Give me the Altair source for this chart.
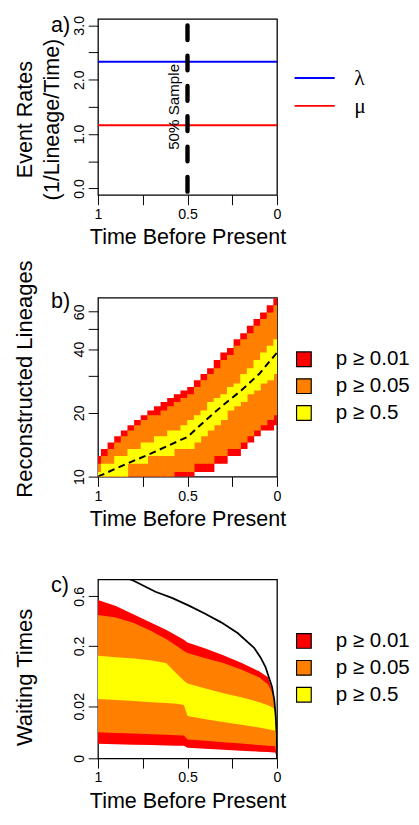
import altair as alt
import pandas as pd

FONT = "Liberation Sans"

# ---------------- panel a: event rates ----------------
rate_names = ["λ", "μ"]
rate_values = [2.33, 1.16]
rate_colors = ["#0000FF", "#FF0000"]
rate_times = [1.0, 0.0]
sample_time = [0.5]
sample_top = [3.0]
sample_bottom = [-0.2]
sample_label = ["50% Sample"]
sample_label_y = [1.5]
a_ticks = [0.0, 0.5, 1.0, 1.5, 2.0, 2.5, 3.0]

# ---------------- panel b: reconstructed lineages ----------------
level_names = ["p ≥ 0.01", "p ≥ 0.05", "p ≥ 0.5"]
level_colors = ["#FF0000", "#FF8000", "#FFFF00"]

b_times = [1.0, 0.963, 0.926, 0.889, 0.852, 0.815, 0.778, 0.741, 0.704, 0.667,
           0.630, 0.593, 0.556, 0.519, 0.481, 0.444, 0.407, 0.370, 0.333, 0.296,
           0.259, 0.222, 0.185, 0.148, 0.111, 0.074, 0.037, 0.0]
b_bin_width = 0.037
b_red_hi = [12, 13, 14, 15, 16, 17, 18, 19, 20, 21, 22, 23, 24, 25, 26, 28, 30, 32, 35, 38, 40, 44, 47, 51, 55, 59, 64, 69]
b_orange_hi = [11, 12, 13, 14, 15, 16, 17, 18, 19, 19, 20, 21, 22, 23, 24, 26, 28, 30, 32, 35, 37, 41, 44, 47, 51, 55, 59, 64]
b_yellow_hi = [10, 11, 11, 12, 12, 13, 13, 14, 14, 15, 15, 16, 16, 17, 18, 19, 20, 22, 23, 24, 26, 27, 30, 32, 35, 38, 41, 44]
b_yellow_lo = [10, 10, 10, 10, 10, 12, 12, 12, 13, 13, 13, 13, 14, 14, 14, 15, 16, 17, 18, 19, 21, 22, 23, 25, 26, 28, 29, 31]
b_orange_lo = [10, 10, 10, 10, 10, 10, 10, 10, 10, 10, 10, 10, 11, 11, 11, 12, 12, 12, 13, 13, 14, 14, 15, 16, 17, 18, 19, 20]
b_red_lo = [10, 10, 10, 10, 10, 10, 10, 10, 10, 10, 10, 10, 10, 10, 10, 11, 11, 11, 12, 12, 13, 13, 14, 15, 16, 17, 17, 18]

b_median_t = [1.0, 0.85, 0.7, 0.6, 0.5, 0.4, 0.3, 0.2, 0.1, 0.0]
b_median_n = [10.0, 11.4, 12.9, 14.1, 15.4, 18.4, 21.8, 25.5, 30.5, 38.5]
b_ticks = [10, 20, 30, 40, 50, 60]

# ---------------- panel c: waiting times ----------------
c_times = [1.0, 0.9, 0.8, 0.7, 0.62, 0.56, 0.52, 0.50, 0.4, 0.3, 0.2, 0.1, 0.05, 0.02, 0.01, 0.0]
c_red_hi = [0.56, 0.50, 0.42, 0.35, 0.30, 0.26, 0.235, 0.22, 0.187, 0.155, 0.123, 0.093, 0.075, 0.036, 0.016, 0.0]
c_orange_hi = [0.415, 0.395, 0.35, 0.29, 0.24, 0.20, 0.175, 0.165, 0.142, 0.122, 0.099, 0.075, 0.057, 0.036, 0.016, 0.0]
c_yellow_hi = [0.152, 0.146, 0.14, 0.132, 0.122, 0.0855, 0.066, 0.059, 0.048, 0.039, 0.032, 0.025, 0.021, 0.018, 0.014, 0.0]
c_yellow_lo = [0.0293, 0.028, 0.0265, 0.025, 0.024, 0.023, 0.0215, 0.0107, 0.0085, 0.0068, 0.0053, 0.0041, 0.0035, 0.0031, 0.003, 0.0]
c_orange_lo = [0.0025, 0.0023, 0.00214, 0.00197, 0.00184, 0.00175, 0.00169, 0.00096, 0.00076, 0.00059, 0.00045, 0.00033, 0.00028, 0.00026, 0.00025, 0.0]
c_red_lo = [0.00044, 0.0004, 0.00036, 0.00033, 0.0003, 0.000285, 0.000273, 0.000161, 0.000121, 0.0000887, 0.0000626, 0.0000421, 0.0000337, 0.0000295, 0.0000284, 0.0]

c_curve_t = [0.83, 0.798, 0.679, 0.587, 0.495, 0.404, 0.312, 0.22, 0.128, 0.092, 0.064, 0.046, 0.028, 0.015, 0.0073, 0.0018, 0.0]
c_curve_v = [0.818, 0.787, 0.653, 0.583, 0.505, 0.429, 0.355, 0.278, 0.191, 0.145, 0.107, 0.076, 0.052, 0.028, 0.0107, 0.0017, 0.0]
c_ticks = [0, 0.02, 0.2, 0.6]

# ---------------- shared pieces ----------------
W = 183
x_scale = alt.Scale(domain=[0, 1], reverse=True, nice=False, zero=False)
x_axis = alt.Axis(
    title="Time Before Present",
    values=[0, 0.25, 0.5, 0.75, 1],
    labelExpr="datum.value == 1 ? '1' : datum.value == 0.5 ? '0.5' : datum.value == 0 ? '0' : ''",
)


def X(field):
    return alt.X(field, type="quantitative", scale=x_scale, axis=x_axis)


def panel_label(text, y=12):
    return alt.Chart(pd.DataFrame({"lab": [text]})).mark_text(
        align="left", baseline="alphabetic", fontSize=22, font=FONT, color="black"
    ).encode(x=alt.value(-48), y=alt.value(y), text="lab:N")


def level_legend():
    return alt.Legend(
        title=None, orient="none", legendX=200, legendY=52.5, padding=0,
        symbolType="square", symbolSize=225, symbolStrokeColor="black",
        symbolStrokeWidth=1.2, symbolOpacity=1, labelFontSize=21, labelFont=FONT,
        labelOffset=22, rowPadding=5.5, clipHeight=21, labelColor="black",
    )


level_scale = alt.Scale(domain=level_names, range=level_colors)

# ---------------- panel a ----------------
HA = 180
df_a = pd.DataFrame({
    "t": rate_times * len(rate_names),
    "rate": [v for v in rate_values for _ in rate_times],
    "param": [n for n in rate_names for _ in rate_times],
})
ya_scale = alt.Scale(domain=[-0.12, 3.12], nice=False, zero=False)
ya_axis = alt.Axis(
    title=["Event Rates", "(1/Lineage/Time)"], values=a_ticks,
    labelExpr="datum.value % 1 == 0 ? format(datum.value, '.1f') : ''",
    titleY=102.5, titleLineHeight=27, titleAlign="center", titleFontSize=22,
)
a_lines = alt.Chart(df_a).mark_line(strokeWidth=2).encode(
    x=X("t"),
    y=alt.Y("rate:Q", scale=ya_scale, axis=ya_axis),
    color=alt.Color("param:N", scale=alt.Scale(domain=rate_names, range=rate_colors),
                    legend=alt.Legend(title=None, orient="none", legendX=200, legendY=50,
                                      padding=0, symbolType="stroke", symbolSize=1681,
                                      symbolStrokeWidth=2, labelFont="Liberation Serif",
                                      labelFontSize=22, labelOffset=19, rowPadding=5.5,
                                      clipHeight=21, labelColor="black")),
)
df_sample = pd.DataFrame({"t": sample_time, "top": sample_top, "bottom": sample_bottom,
                          "lab": sample_label, "ly": sample_label_y})
a_rule = alt.Chart(df_sample).mark_rule(
    color="black", strokeWidth=4.5, strokeDash=[15, 16], strokeCap="round", clip=True
).encode(x=X("t"), y=alt.Y("top:Q", scale=ya_scale, axis=ya_axis), y2="bottom:Q")
a_text = alt.Chart(df_sample).mark_text(
    angle=270, align="center", baseline="alphabetic", fontSize=15.5, font=FONT,
    color="black", dy=-8.5
).encode(x=X("t"), y=alt.Y("ly:Q", scale=ya_scale, axis=ya_axis), text="lab:N")
panel_a = alt.layer(a_lines, a_rule, a_text, panel_label("a)", 13)).properties(width=W, height=HA)

# ---------------- panel b ----------------
HB = 183
rows = []
for name, lo, hi in zip(level_names, [b_red_lo, b_orange_lo, b_yellow_lo],
                        [b_red_hi, b_orange_hi, b_yellow_hi]):
    for t, l, h in zip(b_times, lo, hi):
        # cells overlap their neighbours by a hair so no hairline seams show
        rows.append({"level": name, "key": name, "t1": t + 0.55 * b_bin_width,
                     "t2": t - 0.55 * b_bin_width, "lo": l - 0.5, "hi": h + 0.5})
df_b = pd.DataFrame(rows)
yb_scale = alt.Scale(type="log", domain=[10, 70], nice=False)
yb_axis = alt.Axis(
    title="Reconstructed Lineages", values=b_ticks, format="d",
    labelExpr="datum.value == 30 || datum.value == 50 ? '' : datum.label",
    titleY=204, titleAlign="left",
)
b_rects = alt.Chart(df_b).mark_rect(clip=True).encode(
    x=X("t1"), x2="t2",
    y=alt.Y("lo:Q", scale=yb_scale, axis=yb_axis, stack=None), y2="hi:Q",
    color=alt.Color("level:N", scale=level_scale, legend=None),
)
# legend carrier: an area layer that draws nothing, so the key gets outlined squares
b_key = alt.Chart(df_b).mark_area(clip=True).encode(
    x=X("t1"),
    y=alt.Y("lo:Q", scale=yb_scale, axis=yb_axis, stack=None),
    color=alt.Color("key:N", scale=alt.Scale(domain=level_names, range=level_colors),
                    legend=level_legend()),
).transform_filter("datum.lo > 1000")
df_bm = pd.DataFrame({"t": b_median_t, "n": b_median_n})
b_med = alt.Chart(df_bm).mark_line(color="black", strokeWidth=2, strokeDash=[7, 4.5], clip=True).encode(
    x=X("t"), y=alt.Y("n:Q", scale=yb_scale, axis=yb_axis)
)
panel_b = alt.layer(b_rects, b_key, b_med, panel_label("b)", 11)).resolve_scale(
    color="independent"
).properties(width=W, height=HB)

# ---------------- panel c ----------------
HC = 183
yc_scale = alt.Scale(type="pow", exponent=1 / 3, domain=[0, 0.81], nice=False, zero=True)
yc_axis = alt.Axis(title="Waiting Times", values=c_ticks, format="~g",
                   titleY=170, titleAlign="left")
c_layers = []
for i, (name, lo, hi) in enumerate(zip(level_names, [c_red_lo, c_orange_lo, c_yellow_lo],
                                       [c_red_hi, c_orange_hi, c_yellow_hi])):
    d = pd.DataFrame({"t": c_times, "lo": lo, "hi": hi, "level": [name] * len(c_times)})
    c_layers.append(
        alt.Chart(d).mark_area(clip=True, opacity=1).encode(
            x=X("t"),
            y=alt.Y("hi:Q", scale=yc_scale, axis=yc_axis, stack=None), y2="lo:Q",
            color=alt.Color("level:N", scale=level_scale,
                            legend=level_legend() if i == 0 else None),
        )
    )
df_curve = pd.DataFrame({"t": c_curve_t, "v": c_curve_v})
c_curve = alt.Chart(df_curve).mark_line(color="black", strokeWidth=1.8, clip=True).encode(
    x=X("t"), y=alt.Y("v:Q", scale=yc_scale, axis=yc_axis)
)
panel_c = alt.layer(*c_layers, c_curve, panel_label("c)", 13)).properties(width=W, height=HC)

chart = alt.vconcat(panel_a, panel_b, panel_c, spacing=105, bounds="flush").resolve_scale(
    x="independent", y="independent", color="independent"
).properties(
    padding={"left": 5, "top": -4, "right": 0, "bottom": 0}
).configure(font=FONT).configure_view(
    stroke="black", strokeWidth=1.3
).configure_axis(
    labelFont=FONT, labelFontSize=14.5, labelColor="black",
    titleFont=FONT, titleFontWeight="normal", titleColor="black",
    tickColor="black", tickSize=10, tickWidth=1, domain=False, grid=False,
    labelFlush=False, labelOverlap=False,
).configure_axisLeft(
    labelAngle=-90, labelAlign="center", labelBaseline="alphabetic", labelPadding=5,
    titleAngle=-90, titleBaseline="alphabetic",
    titleFontSize=22.5, titleX=-67.6,
).configure_axisBottom(
    labelBaseline="alphabetic", labelPadding=14, labelAlign="center",
    titleY=50, titleBaseline="alphabetic", titleFontSize=22,
)

chart.save("out.html", embed_options={"renderer": "svg", "actions": False})
